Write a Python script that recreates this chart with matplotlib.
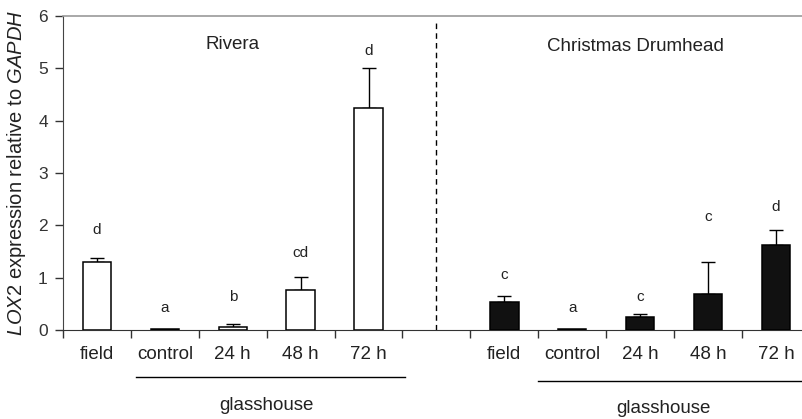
import numpy as np
import matplotlib
matplotlib.use('Agg')
import matplotlib.pyplot as plt
import matplotlib.transforms as mtransforms

plt.rcParams['font.family'] = ['Liberation Sans', 'DejaVu Sans']
plt.rcParams['mathtext.fontset'] = 'custom'
plt.rcParams['mathtext.rm'] = 'Liberation Sans'
plt.rcParams['mathtext.it'] = 'Liberation Sans:italic'

# LOX2 expression, two cultivars
categories = ['field', 'control', '24 h', '48 h', '72 h']
rivera_mean = [1.29, 0.01, 0.05, 0.76, 4.24]
rivera_err = [0.09, 0.0, 0.06, 0.26, 0.76]
rivera_sig = ['d', 'a', 'b', 'cd', 'd']
drum_mean = [0.54, 0.01, 0.25, 0.69, 1.63]
drum_err = [0.11, 0.0, 0.06, 0.60, 0.29]
drum_sig = ['c', 'a', 'c', 'c', 'd']

# baseline of the letters above the bars
rivera_sig_y = [1.84, 0.34, 0.55, 1.39, 5.25]
drum_sig_y = [0.98, 0.34, 0.56, 2.08, 2.27]

fig = plt.figure(figsize=(8.03, 4.19), dpi=100)
ax = fig.add_axes([0.0785, 0.2124, 0.93, 0.7494])

x_riv = np.arange(5)
x_drum = np.arange(5) + 6
w = 0.42

ax.bar(x_riv, rivera_mean, width=w, color='white', edgecolor='black', linewidth=1.1, zorder=3)
ax.bar(x_drum, drum_mean, width=w, color='#111111', edgecolor='black', linewidth=1.1, zorder=3)

for xs, m, e in [(x_riv, rivera_mean, rivera_err), (x_drum, drum_mean, drum_err)]:
    m = np.array(m)
    e = np.array(e)
    keep = e > 0
    ax.errorbar(xs[keep], m[keep], yerr=[np.zeros(keep.sum()), e[keep]], fmt='none',
                ecolor='black', elinewidth=1.0, capsize=5, capthick=1.0, zorder=2)

for xs, ys, labs in [(x_riv, rivera_sig_y, rivera_sig), (x_drum, drum_sig_y, drum_sig)]:
    for xi, yi, s in zip(xs, ys, labs):
        ax.text(xi, yi, s, ha='center', va='baseline', fontsize=11, color='#222222')

ax.text(2.0, 5.36, 'Rivera', ha='center', va='baseline', fontsize=13.5, color='#222222')
ax.text(7.93, 5.34, 'Christmas Drumhead', ha='center', va='baseline', fontsize=13.5, color='#222222')

# divider between cultivars
ax.plot([5, 5], [0, 5.88], color='black', linestyle=(0, (4, 3)), linewidth=1.0)

ax.set_xlim(-0.5, 10.38)
ax.set_ylim(0, 6)
ax.set_yticks(range(7))
ax.tick_params(axis='y', direction='out', length=6, width=1, labelsize=12.5, pad=5, colors='#333333')

ax.set_xticks(np.arange(-0.5, 11, 1))
ax.set_xticklabels([])
ax.tick_params(axis='x', which='major', direction='out', length=6, width=1, color='#333333')
ax.set_xticks(list(x_riv) + list(x_drum), minor=True)
ax.set_xticklabels(categories + categories, minor=True)
ax.tick_params(axis='x', which='minor', length=0, labelsize=13.5, pad=11.5, labelcolor='#222222')

ax.spines['right'].set_visible(False)
ax.spines['top'].set_color('#999999')
ax.spines['top'].set_linewidth(1.2)
ax.spines['left'].set_color('#444444')
ax.spines['bottom'].set_color('#333333')

ax.set_ylabel(r'$\mathit{LOX2}$ expression relative to $\mathit{GAPDH}$', fontsize=14.5,
              labelpad=7, color='#222222')

# glasshouse group brackets
trans = mtransforms.blended_transform_factory(ax.transData, ax.transAxes)
ax.plot([0.58, 4.54], [-0.151, -0.151], color='black', linewidth=1.0, transform=trans, clip_on=False)
ax.text(2.5, -0.255, 'glasshouse', ha='center', va='baseline', fontsize=13.5, color='#222222',
        transform=trans)
ax.plot([6.5, 10.5], [-0.161, -0.161], color='black', linewidth=1.0, transform=trans, clip_on=False)
ax.text(8.35, -0.263, 'glasshouse', ha='center', va='baseline', fontsize=13.5, color='#222222',
        transform=trans)

fig.savefig('out.png', dpi=100)
